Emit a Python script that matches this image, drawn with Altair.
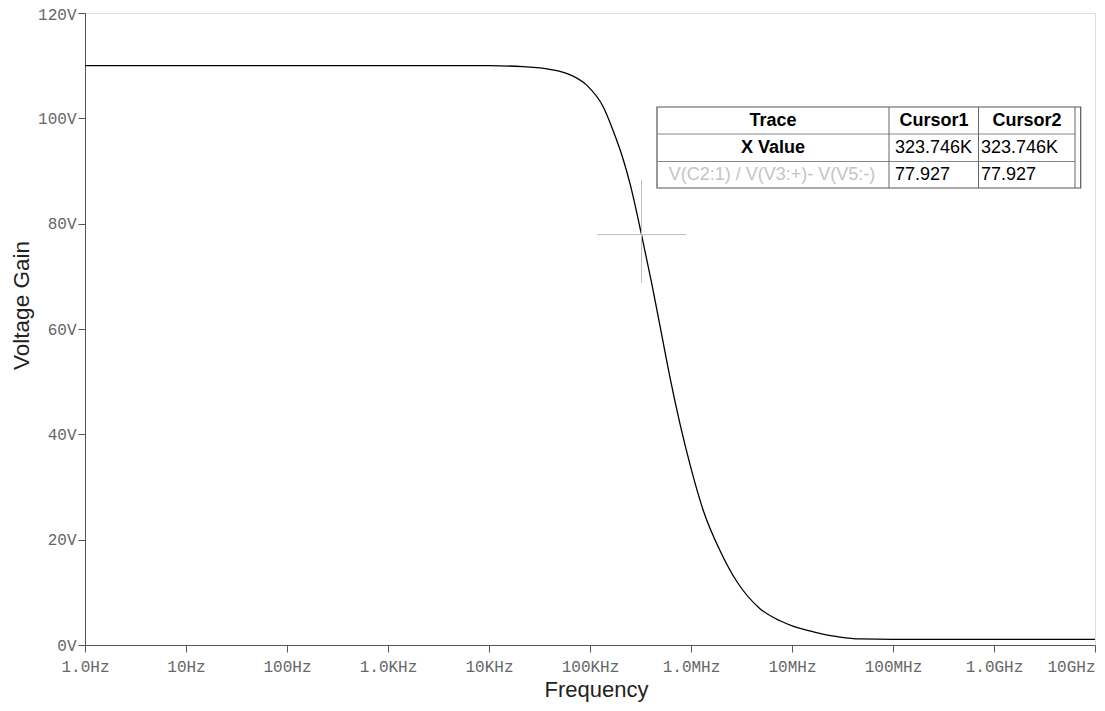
import altair as alt
import pandas as pd

# ---- data ----
freq = [1, 1e3, 1e4, 2.17e4, 4.0e4, 6.3e4, 9.27e4, 1.35e5, 1.7e5, 2.14e5, 2.49e5, 3.237e5,
        4.08e5, 5.32e5, 6.19e5, 7.78e5, 9.77e5, 1.32e6, 1.94e6, 2.83e6, 4.82e6,
        7.6e6, 1.02e7, 1.63e7, 2.99e7, 4.7e7, 1e8, 1e9, 1e10]
gain = [110, 110, 110, 109.8, 109.3, 108.3, 106.3, 102.2, 97.6, 92.1, 87.6, 77.9,
        68.7, 57.3, 50.8, 42.0, 34.3, 25.6, 17.9, 12.1, 6.9,
        4.6, 3.6, 2.5, 1.5, 1.15, 1.08, 1.08, 1.08]

x_ticks = [1, 10, 100, 1e3, 1e4, 1e5, 1e6, 1e7, 1e8, 1e9, 1e10]
x_tick_labels = ["1.0Hz", "10Hz", "100Hz", "1.0KHz", "10KHz", "100KHz",
                 "1.0MHz", "10MHz", "100MHz", "1.0GHz", "10GHz"]
y_ticks = [0, 20, 40, 60, 80, 100, 120]

cursor_freq = [323746]
cursor_gain = [77.927]

table_header = ["Trace", "Cursor1", "Cursor2"]
table_row1 = ["X Value", "323.746K", "323.746K"]
table_row2 = ["V(C2:1) / V(V3:+)- V(V5:-)", "77.927", "77.927"]

# ---- build ----
df = pd.DataFrame({"f": freq, "g": gain})
cur = pd.DataFrame({"f": cursor_freq, "g": cursor_gain})
one = alt.Data(values=[{"k": 1}])

xs = alt.Scale(type="log", domain=[1, 1e10], nice=False)
ys = alt.Scale(domain=[0, 120], nice=False, zero=True)

label_arr = "[" + ",".join("'%s'" % s for s in x_tick_labels) + "]"

x_axis = alt.Axis(
    values=x_ticks,
    labelExpr=label_arr + "[round(log(datum.value)/LN10)]",
    title="Frequency",
    titleFont="Liberation Sans", titleFontSize=22, titleFontWeight="normal",
    titleColor="#222", titleX=511, titleY=51, titleBaseline="alphabetic",
    titleAlign="center", titleAnchor="start",
    labelFont="Liberation Mono", labelFontSize=16, labelColor="#666",
    labelBaseline="alphabetic", labelPadding=19, tickSize=7,
    labelAlign=alt.condition("datum.value >= 1e10", alt.value("right"), alt.value("center")),
    labelOverlap=False, grid=False,
    domainColor="#555", tickColor="#555",
)
y_axis = alt.Axis(
    values=y_ticks,
    labelExpr="datum.value + 'V'",
    title="Voltage Gain",
    titleFont="Liberation Sans", titleFontSize=22.5, titleFontWeight="normal",
    titleColor="#222", titleX=-57, titleY=292, titleBaseline="alphabetic",
    titleAlign="center", titleAnchor="start", titleAngle=270,
    labelFont="Liberation Mono", labelFontSize=16, labelColor="#666",
    labelOffset=alt.condition("datum.value >= 120", alt.value(1.5), alt.value(0)),
    labelPadding=2, tickSize=7, labelOverlap=False, grid=False,
    domainColor="#555", tickColor="#555",
)

curve = alt.Chart(df).mark_line(color="black", strokeWidth=1.3, interpolate="monotone").encode(
    x=alt.X("f:Q", scale=xs, axis=x_axis),
    y=alt.Y("g:Q", scale=ys, axis=y_axis),
)

cross_h = alt.Chart(cur).mark_rule(color="#bdbdbd", strokeWidth=1).transform_calculate(
    flo="datum.f / pow(10, 0.44)", fhi="datum.f * pow(10, 0.44)"
).encode(
    x=alt.X("flo:Q", scale=xs), x2="fhi:Q", y=alt.Y("g:Q", scale=ys)
)
cross_v = alt.Chart(cur).mark_rule(color="#bdbdbd", strokeWidth=1).transform_calculate(
    glo="datum.g - 9.2", ghi="datum.g + 10.4"
).encode(
    x=alt.X("f:Q", scale=xs), y=alt.Y("glo:Q", scale=ys), y2="ghi:Q"
)

layers = [curve, cross_h, cross_v]

# table box (positions in pixels relative to plot area)
L, R, T, B = 572, 995.7, 94, 175
layers.append(alt.Chart(one).mark_rect(fill="white", stroke="#555", strokeWidth=1.2).encode(
    x=alt.value(L), x2=alt.value(R), y=alt.value(T), y2=alt.value(B)))
for yy in [121, 148.5]:
    layers.append(alt.Chart(one).mark_rule(color="#888", strokeWidth=1).encode(
        x=alt.value(L), x2=alt.value(990), y=alt.value(yy)))
for xx in [804, 893.5, 990]:
    layers.append(alt.Chart(one).mark_rule(color="#666", strokeWidth=1).encode(
        x=alt.value(xx), y=alt.value(T), y2=alt.value(B)))


def cell(txt, x, y, align="left", bold=False, color="black"):
    return alt.Chart(one).mark_text(
        font="Liberation Sans", fontSize=18, fontWeight="bold" if bold else "normal",
        align=align, baseline="middle", color=color
    ).encode(x=alt.value(x), y=alt.value(y), text=alt.value(txt))


row_y = [107.7, 135.3, 162]
layers.append(cell(table_header[0], 688, row_y[0], "center", True))
layers.append(cell(table_header[1], 849, row_y[0], "center", True))
layers.append(cell(table_header[2], 942, row_y[0], "center", True))
layers.append(cell(table_row1[0], 688, row_y[1], "center", True))
layers.append(cell(table_row1[1], 810, row_y[1]))
layers.append(cell(table_row1[2], 896, row_y[1]))
layers.append(cell(table_row2[0], 687, row_y[2], "center", False, "#c4c4c4"))
layers.append(cell(table_row2[1], 810, row_y[2]))
layers.append(cell(table_row2[2], 896, row_y[2]))

chart = alt.layer(*layers).properties(
    width=1010, height=632,
    padding={"left": 77, "top": 5, "right": 2, "bottom": 58},
    autosize=alt.AutoSizeParams(type="none"),
).configure_view(stroke="#808080", strokeWidth=1).configure(background="white")

chart.save("out.html", embed_options={"renderer": "svg", "actions": False})
